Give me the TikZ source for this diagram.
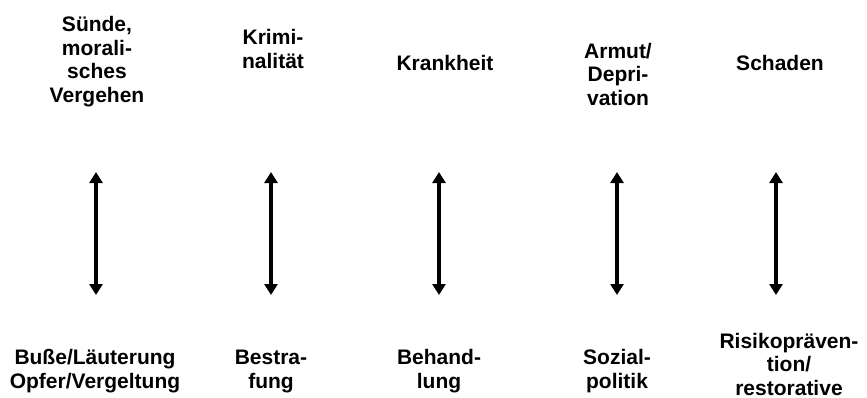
\documentclass[tikz,border=0pt]{standalone}
\usepackage{fontspec}
\setmainfont{Liberation Sans}
\usetikzlibrary{arrows.meta}
\tikzset{
  lbl/.style={anchor=base, align=center, inner sep=0pt, font=\bfseries\fontsize{21}{23.5}\selectfont},
  dbl/.style={line width=4.5pt, {Triangle[width=13pt,length=11pt]}-{Triangle[width=13pt,length=11pt]}}
}
\begin{document}
\begin{tikzpicture}[x=1pt,y=-1pt]
\useasboundingbox (0,0) rectangle (867,397);
% top labels (anchor = baseline of last line)
\node[lbl] (t1) at (97,102) {Sünde,\\morali-\\sches\\Vergehen};
\node[lbl] (t2) at (273,68) {Krimi-\\nalität};
\node[lbl] (t3) at (445,70) {Krankheit};
\node[lbl] (t4) at (618,105) {Armut/\\Depri-\\vation};
\node[lbl] (t5) at (780,70) {Schaden};
% bottom labels
\node[lbl] (b1) at (95,388) {Buße/Läuterung\\Opfer/Vergeltung};
\node[lbl] (b2) at (271,388) {Bestra-\\fung};
\node[lbl] (b3) at (439,388) {Behand-\\lung};
\node[lbl] (b4) at (617,388) {Sozial-\\politik};
\node[lbl] (b5) at (789,395) {Risikopräven-\\tion/\\restorative};
% arrow ends
\coordinate (a1t) at (96,172);  \coordinate (a1b) at (96,295);
\coordinate (a2t) at (271,172); \coordinate (a2b) at (271,295);
\coordinate (a3t) at (439,172); \coordinate (a3b) at (439,295);
\coordinate (a4t) at (617,172); \coordinate (a4b) at (617,295);
\coordinate (a5t) at (776,172); \coordinate (a5b) at (776,295);
\draw[dbl] (a1t) -- (a1b);
\draw[dbl] (a2t) -- (a2b);
\draw[dbl] (a3t) -- (a3b);
\draw[dbl] (a4t) -- (a4b);
\draw[dbl] (a5t) -- (a5b);
\end{tikzpicture}
\end{document}
